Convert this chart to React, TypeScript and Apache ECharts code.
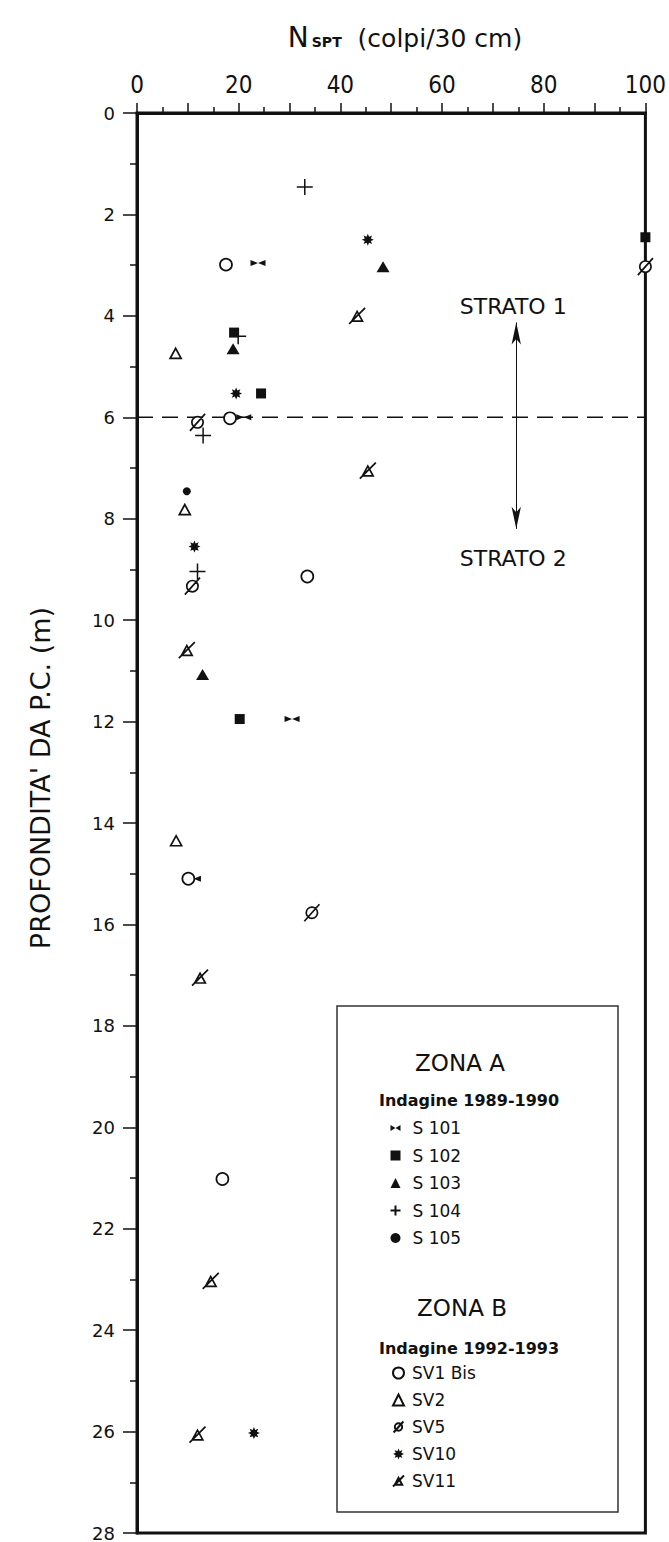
import { useEffect, useRef } from "react";
import * as echarts from "echarts";

// N_SPT (blows / 30 cm) vs depth below ground level (m), one array per borehole
const S101: [number, number][] = [[23.8, 2.96], [21.0, 6.0], [30.5, 11.95], [11.1, 15.1]];
const S102: [number, number][] = [[100, 2.45], [19.1, 4.33], [24.4, 5.53], [20.2, 11.95]];
const S103: [number, number][] = [[48.4, 3.03], [18.9, 4.65], [12.9, 11.07]];
const S104: [number, number][] = [[33.0, 1.46], [19.9, 4.4], [13.0, 6.36], [11.9, 9.04]];
const S105: [number, number][] = [[9.8, 7.46]];
const SV1_BIS: [number, number][] = [[17.5, 2.99], [18.3, 6.02], [33.5, 9.14], [10.1, 15.1], [16.8, 21.02]];
const SV2: [number, number][] = [[7.6, 4.74], [9.4, 7.82], [7.7, 14.35]];
const SV5: [number, number][] = [[100, 3.03], [11.9, 6.1], [10.9, 9.33], [34.4, 15.77]];
const SV10: [number, number][] = [[45.4, 2.5], [19.5, 5.53], [11.3, 8.55], [23.0, 26.03]];
const SV11: [number, number][] = [[43.3, 4.0], [45.4, 7.05], [9.8, 10.59], [12.4, 17.05], [14.5, 23.03], [11.9, 26.06]];

const ZONE_A_NAMES = ["S 101", "S 102", "S 103", "S 104", "S 105"];
const ZONE_B_NAMES = ["SV1 Bis", "SV2", "SV5", "SV10", "SV11"];

// strata boundary and labels
const STRATA_BOUNDARY = 6;
const STRATA_LABELS = [
  { name: "STRATO 1", value: [74, 3.81] },
  { name: "STRATO 2", value: [74, 8.79] },
];
const STRATA_ARROW = { n: 74.6, from: 4.13, to: 8.2 };

const X_MIN = 0;
const X_MAX = 100;
const Y_MIN = 0;
const Y_MAX = 28;

const INK = "#111";
const THIN = "'DejaVu Sans', 'Liberation Sans', sans-serif";
const NARROW = "'Liberation Sans Narrow', 'DejaVu Sans Condensed', 'Liberation Sans', sans-serif";

// marker outlines
const BOWTIE = "path://M0,0 L10,6 L0,12 Z M20,0 L10,6 L20,12 Z";
const PLUS = "path://M10,0 L10,20 M0,10 L20,10";
const SLASHED_CIRCLE = "path://M4,10 A6,6 0 1,1 16,10 A6,6 0 1,1 4,10 Z M2,19 L18,1";
const STAR8 =
  "path://M20,10 L15.08,12.1 L17.07,17.07 L12.1,15.08 L10,20 L7.9,15.08 L2.93,17.07 L4.92,12.1 L0,10 L4.92,7.9 L2.93,2.93 L7.9,4.92 L10,0 L12.1,4.92 L17.07,2.93 L15.08,7.9 Z";
const SLASHED_TRIANGLE = "path://M4,17 L10,6 L16,17 Z M1,20 L19,2";

function pts(name: string, data: [number, number][], symbol: string, size: number | number[], filled: boolean) {
  return {
    type: "scatter",
    name,
    data,
    symbol,
    symbolSize: size,
    symbolKeepAspect: true,
    z: 5,
    itemStyle: filled
      ? { color: INK, borderColor: INK, borderWidth: 0, opacity: 1 }
      : { color: "#fff", borderColor: INK, borderWidth: 1.7, opacity: 1 },
  };
}

export default function App() {
  const ref = useRef<HTMLDivElement>(null);

  useEffect(() => {
    if (!ref.current) return;
    const chart = echarts.init(ref.current, undefined, { renderer: "svg" });

    const legendText = {
      fontSize: 17,
      lineHeight: 20,
      fontFamily: THIN,
      color: INK,
    };

    chart.setOption({
      animation: false,
      backgroundColor: "#fff",
      title: {
        text: "{n|N}{s|SPT}{r|  (colpi/30 cm)}",
        left: 400,
        top: 12,
        textAlign: "center",
        textStyle: {
          fontWeight: "normal",
          rich: {
            n: { fontSize: 28, fontWeight: "normal", fontFamily: THIN, color: INK, lineHeight: 34, verticalAlign: "bottom" },
            s: { fontSize: 14, fontWeight: "bold", fontFamily: THIN, color: INK, lineHeight: 34, verticalAlign: "bottom", padding: [0, 0, 2, 3] },
            r: { fontSize: 25, fontWeight: "normal", fontFamily: THIN, color: INK, lineHeight: 34, verticalAlign: "bottom" },
          },
        },
      },
      grid: {
        left: 137,
        right: 23,
        top: 113,
        bottom: 5,
        show: true,
        borderColor: INK,
        borderWidth: 3,
        backgroundColor: "transparent",
      },
      xAxis: {
        type: "value",
        position: "top",
        min: X_MIN,
        max: X_MAX,
        interval: 10,
        axisLine: { show: true, lineStyle: { color: INK, width: 3 } },
        axisTick: { show: true, length: 10, lineStyle: { color: INK, width: 1.5 } },
        minorTick: { show: true, splitNumber: 2, length: 6, lineStyle: { color: INK, width: 1.5 } },
        splitLine: { show: false },
        axisLabel: {
          margin: 16,
          fontSize: 24,
          fontFamily: NARROW,
          color: INK,
          formatter: (v: number) => (v % 20 === 0 ? String(v) : ""),
        },
      },
      yAxis: {
        type: "value",
        inverse: true,
        min: Y_MIN,
        max: Y_MAX,
        interval: 2,
        axisLine: { show: true, lineStyle: { color: INK, width: 3 } },
        axisTick: { show: true, length: 14, lineStyle: { color: INK, width: 1.5 } },
        minorTick: { show: true, splitNumber: 2, length: 7, lineStyle: { color: INK, width: 1.5 } },
        splitLine: { show: false },
        axisLabel: { margin: 22, fontSize: 18, fontFamily: THIN, color: INK },
      },
      legend: [
        {
          data: ZONE_A_NAMES,
          orient: "vertical",
          left: 388,
          top: 1118,
          padding: 0,
          itemWidth: 10,
          itemHeight: 10,
          itemGap: 7.5,
          selectedMode: false,
          textStyle: { ...legendText, padding: [0, 0, 0, 7] },
        },
        {
          data: ZONE_B_NAMES,
          orient: "vertical",
          left: 392,
          top: 1363,
          padding: 0,
          itemWidth: 11,
          itemHeight: 11,
          itemGap: 7,
          selectedMode: false,
          textStyle: { ...legendText, padding: [0, 0, 0, 3] },
        },
      ],
      graphic: [
        {
          type: "text",
          x: 40,
          y: 778,
          rotation: Math.PI / 2,
          style: {
            text: "PROFONDITA' DA P.C. (m)",
            fontSize: 27,
            fontFamily: THIN,
            fill: INK,
            align: "center",
            verticalAlign: "middle",
          },
        },
        {
          type: "rect",
          shape: { x: 337, y: 1006, width: 281, height: 506 },
          style: { fill: "none", stroke: "#333", lineWidth: 1.5 },
        },
        {
          type: "text",
          x: 460,
          y: 1063,
          style: { text: "ZONA A", fontSize: 23, fontFamily: THIN, fill: INK, align: "center", verticalAlign: "middle" },
        },
        {
          type: "text",
          x: 379,
          y: 1100,
          style: { text: "Indagine 1989-1990", fontSize: 16, fontWeight: "bold", fontFamily: THIN, fill: INK, align: "left", verticalAlign: "middle" },
        },
        {
          type: "text",
          x: 462,
          y: 1308,
          style: { text: "ZONA B", fontSize: 23, fontFamily: THIN, fill: INK, align: "center", verticalAlign: "middle" },
        },
        {
          type: "text",
          x: 379,
          y: 1348,
          style: { text: "Indagine 1992-1993", fontSize: 16, fontWeight: "bold", fontFamily: THIN, fill: INK, align: "left", verticalAlign: "middle" },
        },
      ],
      series: [
        {
          type: "line",
          name: "limite strati",
          data: [[X_MIN, STRATA_BOUNDARY], [X_MAX, STRATA_BOUNDARY]],
          symbol: "none",
          silent: true,
          z: 2,
          lineStyle: { color: INK, width: 1.5, type: [16, 9] },
        },
        {
          type: "scatter",
          name: "strati",
          data: STRATA_LABELS,
          symbolSize: 0,
          silent: true,
          z: 3,
          itemStyle: { opacity: 1 },
          label: {
            show: true,
            position: "inside",
            formatter: "{b}",
            fontSize: 22,
            fontFamily: THIN,
            color: INK,
          },
          markLine: {
            silent: true,
            symbol: ["arrow", "arrow"],
            symbolSize: [7, 22],
            label: { show: false },
            lineStyle: { color: INK, width: 1, type: "solid", opacity: 1 },
            data: [[{ coord: [STRATA_ARROW.n, STRATA_ARROW.from] }, { coord: [STRATA_ARROW.n, STRATA_ARROW.to] }]],
          },
        },
        pts("S 101", S101, BOWTIE, [15, 10], true),
        pts("S 102", S102, "rect", 10, true),
        pts("S 103", S103, "triangle", [13, 11], true),
        { ...pts("S 104", S104, PLUS, 16, false), itemStyle: { color: "none", borderColor: INK, borderWidth: 1.5, opacity: 1 } },
        pts("S 105", S105, "circle", 8, true),
        pts("SV1 Bis", SV1_BIS, "circle", 12, false),
        pts("SV2", SV2, "triangle", [11, 10], false),
        pts("SV5", SV5, SLASHED_CIRCLE, 17, false),
        pts("SV10", SV10, STAR8, 12, true),
        pts("SV11", SV11, SLASHED_TRIANGLE, 16, false),
      ],
    });

    return () => chart.dispose();
  }, []);

  return (
    <div
      ref={ref}
      style={{ position: "absolute", left: 0, top: 0, width: 669, height: 1542, background: "#fff" }}
    />
  );
}
